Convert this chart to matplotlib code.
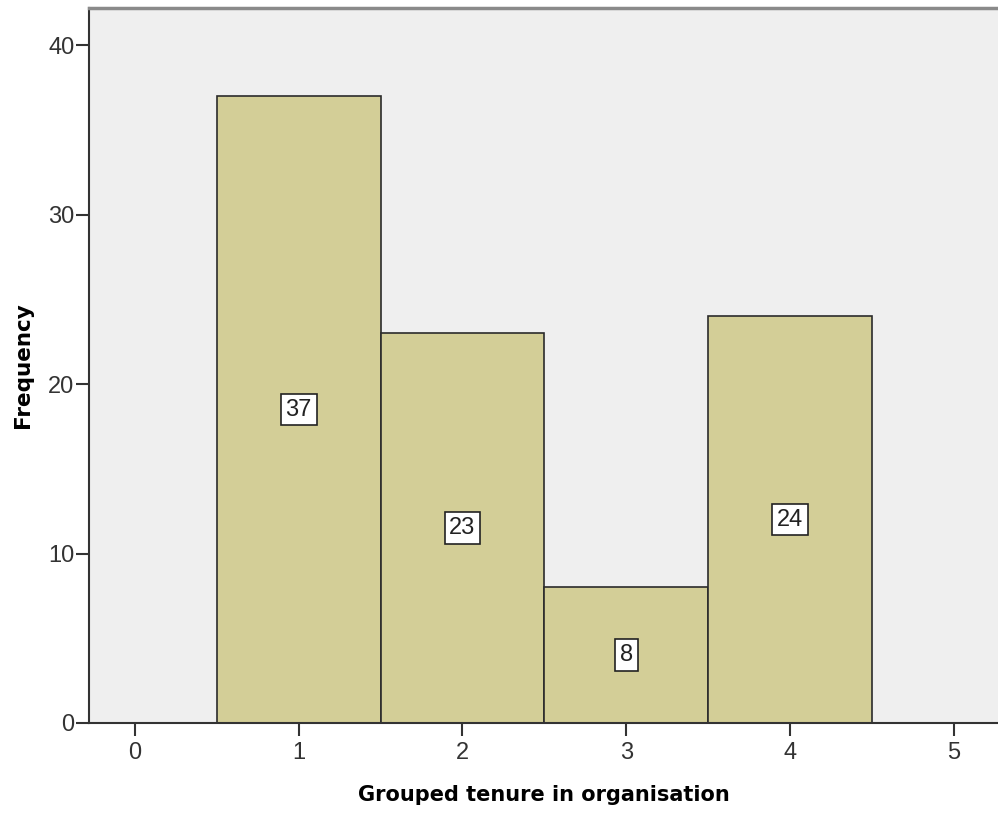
import matplotlib.pyplot as plt

# data
tenure_groups = [1, 2, 3, 4]
frequencies = [37, 23, 8, 24]
x_ticks = [0, 1, 2, 3, 4, 5]
y_ticks = [0, 10, 20, 30, 40]

plt.rcParams['font.family'] = ['Liberation Sans', 'DejaVu Sans']

fig = plt.figure(figsize=(9.98, 8.14), dpi=100)
# axes box: left edge at px 89, bottom at px 723, top at px 8, runs off the right side
ax = fig.add_axes([0.0892, 0.1118, 0.9108, 0.8784])
ax.set_facecolor('#EFEFEF')

ax.bar(tenure_groups, frequencies, width=1.0, color='#D3CE97',
       edgecolor='#2b2b2b', linewidth=1.2, zorder=2)

for x, f in zip(tenure_groups, frequencies):
    ax.text(x, f / 2, str(f), ha='center', va='center', fontsize=17, color='#222222',
            bbox=dict(boxstyle='square,pad=0.2', facecolor='white', edgecolor='#222222', linewidth=1.2),
            zorder=3)

ax.set_xlim(-0.2805, 5.27)
ax.set_ylim(0, 42.2)
ax.set_xticks(x_ticks)
ax.set_yticks(y_ticks)
ax.tick_params(axis='both', direction='out', length=9.5, width=1.5, color='#333333',
               labelsize=17, labelcolor='#333333')
ax.tick_params(axis='x', pad=4)
ax.tick_params(axis='y', pad=1)

ax.spines['right'].set_visible(False)
ax.spines['top'].set_color('#8a8a8a')
ax.spines['top'].set_linewidth(2.5)
for s in ['left', 'bottom']:
    ax.spines[s].set_color('#333333')
    ax.spines[s].set_linewidth(1.5)

ax.set_xlabel('Grouped tenure in organisation', fontsize=15, fontweight='bold',
              family='DejaVu Sans', labelpad=15)
ax.set_ylabel('Frequency', fontsize=15.5, fontweight='bold',
              family='DejaVu Sans', labelpad=11)

fig.savefig('out.png', dpi=100)
